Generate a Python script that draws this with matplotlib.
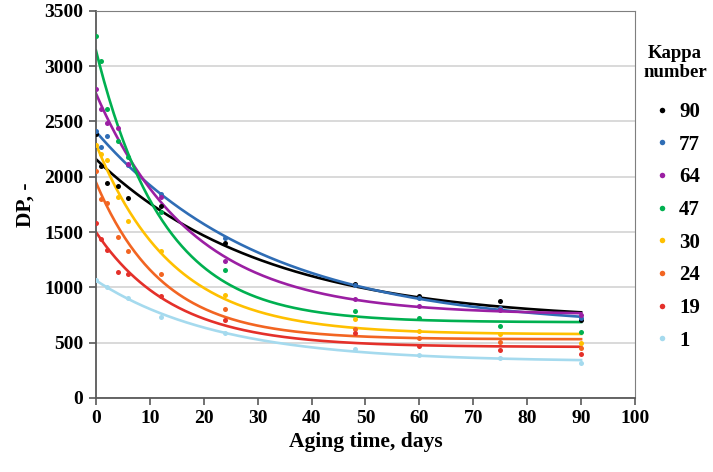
import matplotlib
matplotlib.use("Agg")
import matplotlib.pyplot as plt
import numpy as np

# -------------------------- fonts --------------------------
plt.rcParams['font.family'] = ['Liberation Serif', 'DejaVu Serif']
plt.rcParams['font.weight'] = 'bold'

# -------------------------- data --------------------------
days = np.array([0, 1, 2, 4, 6, 12, 24, 48, 60, 75, 90])
kappa = ['90', '77', '64', '47', '30', '24', '19', '1']
colors = ['#000000', '#2F6DB5', '#9B1FA3', '#00B050',
          '#FFC000', '#F26522', '#E4302A', '#A5DAEE']

nan = np.nan
dp_90 = [2384, 2097, 1941, 1916, 1805, 1736, 1404, 1028, 922, 877, 700]
dp_77 = [2416, 2272, 2371, nan, 2110, 1840, 1444, 1020, 900, 811, 720]
dp_64 = [2790, 2612, 2489, 2438, 2115, 1820, 1241, 892, 832, 795, 750]
dp_47 = [3275, 3049, 2610, 2326, 2181, 1684, 1157, 786, 720, 651, 595]
dp_30 = [2284, 2206, 2152, 1820, 1600, 1329, 931, 711, 606, 579, 495]
dp_24 = [2052, 1796, 1760, 1453, 1332, 1121, 802, 625, 540, 503, 455]
dp_19 = [1585, 1440, 1338, 1142, 1121, 925, 705, 590, 470, 434, 395]
dp_1 = [1067, nan, 1000, nan, 906, 735, 590, 440, 389, 364, 315]
series = [dp_90, dp_77, dp_64, dp_47, dp_30, dp_24, dp_19, dp_1]


# -------------------------- exponential fit DP = a + b*exp(-k t) --------------------------
def fit_exp(t, y):
    m = np.isfinite(y)
    t, y = t[m], y[m]
    best = None
    for k in np.linspace(0.005, 0.6, 1200):
        A = np.column_stack([np.ones_like(t, dtype=float), np.exp(-k * t)])
        coef, *_ = np.linalg.lstsq(A, y, rcond=None)
        sse = np.sum((A @ coef - y) ** 2)
        if best is None or sse < best[0]:
            best = (sse, coef[0], coef[1], k)
    return best[1:]


fig = plt.figure(figsize=(7.13, 4.72), dpi=100)
ax = fig.add_axes([0.1346, 0.157, 0.756, 0.82])

tt = np.linspace(0, 90, 300)
for lab, c, vals in zip(kappa, colors, series):
    y = np.array(vals, dtype=float)
    a, b, k = fit_exp(days, y)
    ax.plot(tt, a + b * np.exp(-k * tt), color=c, lw=1.9, zorder=2)
    ax.plot(days, y, 'o', color=c, ms=3.6, mec='none', zorder=3, label=lab)

# -------------------------- axes --------------------------
ax.set_xlim(0, 100)
ax.set_ylim(0, 3500)
ax.set_xticks(np.arange(0, 101, 10))
ax.set_yticks(np.arange(0, 3501, 500))
ax.yaxis.grid(True, color='#D9D9D9', lw=1.4)
ax.set_axisbelow(True)
for s in ['left', 'bottom']:
    ax.spines[s].set_color('#595959')
    ax.spines[s].set_linewidth(1.3)
for s in ['top', 'right']:
    ax.spines[s].set_color('#7F7F7F')
    ax.spines[s].set_linewidth(0.8)
ax.tick_params(direction='out', length=5, width=1.2, color='#595959',
               labelsize=14, pad=4)
for t in ax.get_xticklabels() + ax.get_yticklabels():
    t.set_fontweight('bold')

ax.set_xlabel('Aging time, days', fontsize=15.5, fontweight='bold', labelpad=3)
ax.set_ylabel('DP, -', fontsize=15.5, fontweight='bold', labelpad=6)

# -------------------------- legend --------------------------
fig.text(675 / 713, 1 - 63 / 472, 'Kappa\nnumber', ha='center', va='center',
         fontsize=13.5, fontweight='bold', linespacing=1.2)
leg = fig.legend(loc='upper left', bbox_to_anchor=(0.885, 0.824), frameon=False,
                 fontsize=15, handletextpad=0.2, labelspacing=0.61,
                 markerscale=1.1, handlelength=1.2)
for t in leg.get_texts():
    t.set_fontweight('bold')

fig.savefig('out.png', dpi=100)
